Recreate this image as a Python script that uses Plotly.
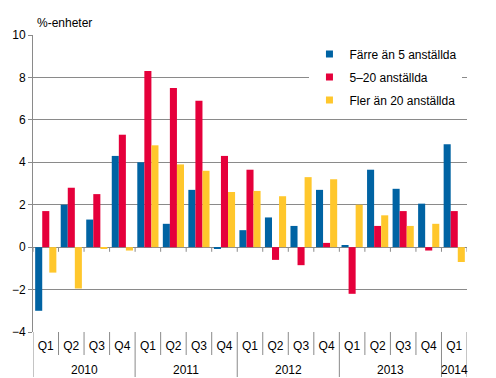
import plotly.graph_objects as go

years = ["2010"] * 4 + ["2011"] * 4 + ["2012"] * 4 + ["2013"] * 4 + ["2014"]
quarters = ["Q1", "Q2", "Q3", "Q4"] * 4 + ["Q1"]

series_names = ["Färre än 5 anställda", "5–20 anställda", "Fler än 20 anställda"]
farre_an_5 = [-3.0, 2.0, 1.3, 4.3, 4.0, 1.1, 2.7, -0.07, 0.8, 1.4, 1.0, 2.7, 0.1, 3.65, 2.75, 2.05, 4.85]
fem_till_20 = [1.7, 2.8, 2.5, 5.3, 8.3, 7.5, 6.9, 4.3, 3.65, -0.6, -0.85, 0.2, -2.2, 1.0, 1.7, -0.16, 1.7]
fler_an_20 = [-1.2, -1.95, -0.05, -0.16, 4.8, 3.9, 3.6, 2.6, 2.65, 2.4, 3.3, 3.2, 2.0, 1.5, 1.0, 1.1, -0.7]
colors = ["#0063A3", "#E5003B", "#FFC72C"]

FONT = "Liberation Sans, Arial, sans-serif"
GRID = "#8a8a8a"

# The page has the browser's default 8px body margin; the figure is sized and
# its margins set so the plot area lands where the reference has it.
W, H = 488, 370
ML, MT, MR, MB = 25, 27, 29, 46
PLOT_H = H - MT - MB

cats = [f"{y} {q}" for y, q in zip(years, quarters)]
n = len(cats)

fig = go.Figure()
for i, (name, vals) in enumerate(zip(series_names, [farre_an_5, fem_till_20, fler_an_20])):
    fig.add_trace(go.Bar(
        x=cats, y=vals, name=name,
        marker=dict(color=colors[i], line=dict(width=0)),
        showlegend=False,
    ))
# legend entries with small square keys
for i, name in enumerate(series_names):
    fig.add_trace(go.Scatter(
        x=[cats[0]], y=[None], name=name, mode="markers",
        marker=dict(color=colors[i], symbol="square", size=7),
        legendgroup=str(i), showlegend=True, hoverinfo="skip",
    ))

# small tick marks on the zero line and quarter separators under the axis
for k in range(n + 1):
    fig.add_shape(type="line", xref="x", yref="y", x0=k - 0.5, x1=k - 0.5,
                  y0=0, y1=-0.22, line=dict(color=GRID, width=1))
    new_year = k == 0 or k == n or years[k] != years[k - 1]
    depth = (377 - 332) if new_year else 23
    fig.add_shape(type="line", xref="x", yref="paper", x0=k - 0.5, x1=k - 0.5,
                  y0=0, y1=-depth / PLOT_H, line=dict(color=GRID, width=1))

# year labels centred under their quarters
for yr in dict.fromkeys(years):
    idx = [j for j, v in enumerate(years) if v == yr]
    fig.add_annotation(text=yr, xref="x", yref="paper",
                       x=(idx[0] + idx[-1]) / 2, y=-(370 - 332) / PLOT_H,
                       xanchor="center", yanchor="middle", showarrow=False,
                       font=dict(family=FONT, size=12, color="#000"))

fig.add_annotation(text="%-enheter", xref="paper", yref="paper", x=0.005, y=1.04,
                   xanchor="left", yanchor="middle", showarrow=False,
                   font=dict(family=FONT, size=12, color="#000"))

fig.update_layout(
    width=W, height=H,
    margin=dict(l=ML, r=MR, t=MT, b=MB, autoexpand=False),
    paper_bgcolor="white", plot_bgcolor="white",
    barmode="group", bargap=0.17, bargroupgap=0,
    font=dict(family=FONT, size=12, color="#000"),
    showlegend=True,
    legend=dict(x=0.637, y=0.985, xanchor="left", yanchor="top",
                bgcolor="white", font=dict(family=FONT, size=12, color="#000"),
                tracegroupgap=4, itemwidth=30, traceorder="grouped"),
    xaxis=dict(type="category", showgrid=False, ticks="",
               tickmode="array", tickvals=cats, ticktext=quarters,
               showline=False, automargin=False, ticklabelstandoff=5,
               range=[-0.5, n - 0.5],
               tickfont=dict(family=FONT, size=12, color="#000")),
    yaxis=dict(range=[-4, 10], dtick=2, showgrid=True, gridcolor=GRID, gridwidth=1,
               zeroline=True, zerolinecolor=GRID, zerolinewidth=1,
               showline=True, linecolor=GRID, linewidth=1, automargin=False,
               ticks="outside", ticklen=4, tickcolor=GRID,
               tickfont=dict(family=FONT, size=12, color="#000")),
)

fig.write_html("out.html")
